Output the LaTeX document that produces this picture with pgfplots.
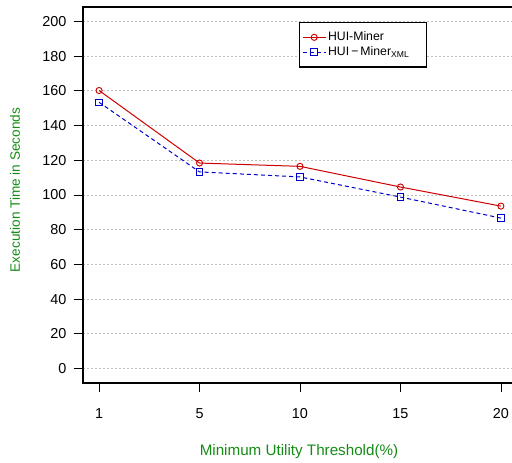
\documentclass[border=0pt]{standalone}
\usepackage{pgfplots}
\pgfplotsset{compat=1.18}
\usepackage{fontspec}
\setmainfont{Liberation Sans}
\definecolor{rred}{RGB}{205,0,0}
\definecolor{rblue}{RGB}{0,0,205}
\definecolor{rgreen}{RGB}{20,140,20}
\begin{document}
\begin{tikzpicture}[x=0.75pt,y=0.75pt]
\path[use as bounding box] (0,0) rectangle (512,463);
\clip (0,0) rectangle (512,463);
\begin{axis}[
  at={(62.25pt,60pt)}, anchor=south west,
  scale only axis, width=325.5pt, height=282pt,
  xmin=0.84, xmax=5.16, ymin=-8.32, ymax=208.32,
  xtick={1,2,3,4,5}, xticklabels={1,5,10,15,20},
  ytick={0,20,...,200},
  tick align=outside, major tick length=7pt,
  xtick pos=bottom, ytick pos=left,
  tick style={black, line width=0.6pt},
  axis line style={line width=0.8pt},
  ymajorgrids, grid style={dash pattern=on 1.5pt off 1.5pt, gray!50, line width=0.55pt},
  /pgf/number format/assume math mode=true,
  ticklabel style={font=\fontsize{10.8}{13}\selectfont},
  xticklabel style={yshift=-8.5pt},
  yticklabel style={xshift=-2pt},
  legend style={at={(rel axis cs:0.498,0.960)}, anchor=north west,
    font=\fontsize{9.2}{10}\selectfont, draw=black, line width=0.8pt,
    inner xsep=2pt, inner ysep=5.5pt, row sep=0pt, text width=70pt,
    nodes={inner sep=1.5pt}},
  legend cell align=left,
]
\addplot[rred, line width=0.75pt, mark=o, mark size=2.3pt, mark options={solid, line width=0.7pt}]
  coordinates {(1,160.2) (2,118.4) (3,116.5) (4,104.6) (5,93.6)};
\addlegendentry{HUI-Miner}
\addplot[rblue, line width=0.75pt, dash pattern=on 3pt off 2.3pt, mark=square, mark size=2.5pt, mark options={solid, line width=0.7pt}]
  coordinates {(1,153.4) (2,113.3) (3,110.4) (4,98.8) (5,86.7)};
\addlegendentry{HUI\,−\,Miner\textsubscript{XML}}
\end{axis}
\node[rotate=90, text=rgreen, font=\fontsize{10.2}{12}\selectfont] at (15,273) {Execution Time in Seconds};
\node[text=rgreen, font=\fontsize{11.4}{13}\selectfont] at (299,11) {Minimum Utility Threshold(\%)};
\end{tikzpicture}
\end{document}
